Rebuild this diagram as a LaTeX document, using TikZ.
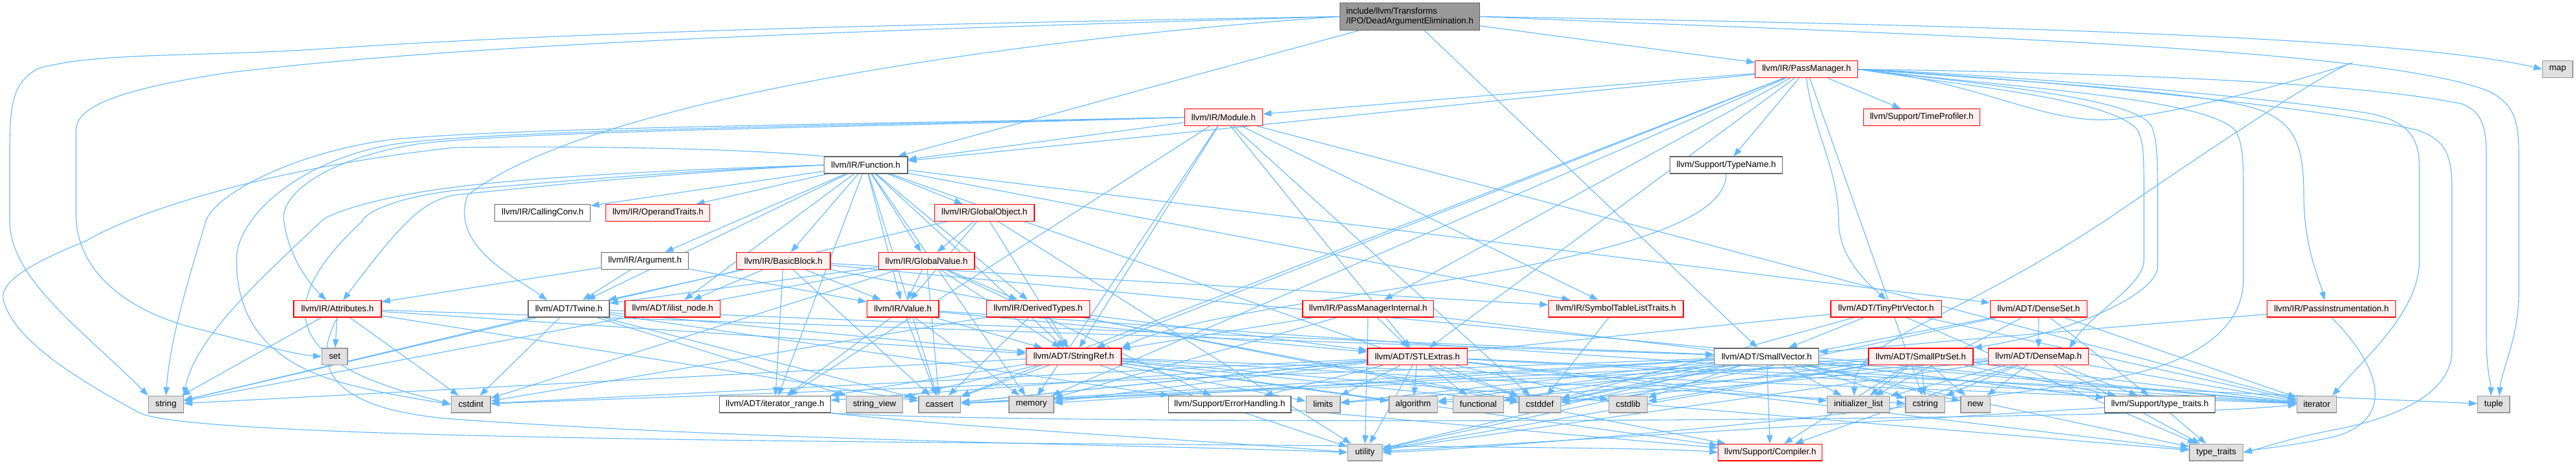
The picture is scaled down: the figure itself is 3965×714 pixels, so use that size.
\documentclass[tikz,border=0pt]{standalone}
\usepackage{fontspec}
\setmainfont{Liberation Sans}
\usetikzlibrary{arrows.meta}
\pgfdeclarelayer{bg}
\pgfsetlayers{bg,main}
\definecolor{edgeblue}{HTML}{63B8FF}
\definecolor{nodered}{HTML}{FF0000}
\definecolor{redfill}{HTML}{FFF0F0}
\definecolor{greyfill}{HTML}{E0E0E0}
\definecolor{greyline}{HTML}{999999}
\definecolor{darkline}{HTML}{666666}
\definecolor{rootfill}{HTML}{999999}
\tikzset{
  base/.style={draw, line width=1.3pt, minimum height=25.7pt, inner sep=0pt,
    font=\fontsize{13.3}{15}\selectfont},
  rn/.style={base, draw=nodered, fill=redfill},
  wn/.style={base, draw=darkline, fill=white},
  gn/.style={base, draw=greyline, fill=greyfill},
  rootn/.style={base, draw=darkline, fill=rootfill},
  dep/.style={draw=edgeblue, line width=1.1pt, -{Triangle[length=13pt,width=9.5pt]}},
}
\begin{document}
\begin{tikzpicture}[x=1pt,y=-1pt]
\useasboundingbox (0,0) rectangle (3965,714);
% nodes
\node[rootn, minimum width=215pt, minimum height=41.6pt, align=left] (root) at (2170,25.5) {include/llvm/Transforms\\/IPO/DeadArgumentElimination.h};
\node[rn, minimum width=157.6pt] (pm) at (2780.6,106.5) {llvm/IR/PassManager.h};
\node[rn, minimum width=179pt] (tprof) at (2957.8,180.5) {llvm/Support/TimeProfiler.h};
\node[wn, minimum width=173pt] (tname) at (2657,254) {llvm/Support/TypeName.h};
\node[gn, minimum width=46.5pt] (map) at (3936.8,106.5) {map};
\node[rn, minimum width=120pt] (mod) at (1883.3,180.5) {llvm/IR/Module.h};
\node[wn, minimum width=128.6pt] (fn) at (1332.6,254) {llvm/IR/Function.h};
\node[wn, minimum width=147pt] (cc) at (835.3,327.5) {llvm/IR/CallingConv.h};
\node[rn, minimum width=160pt] (optr) at (1012.8,327.5) {llvm/IR/OperandTraits.h};
\node[rn, minimum width=153.6pt] (gobj) at (1515.2,327.5) {llvm/IR/GlobalObject.h};
\node[wn, minimum width=134.4pt] (arg) at (992.6,401.3) {llvm/IR/Argument.h};
\node[rn, minimum width=144.6pt] (bb) at (1205.8,401.3) {llvm/IR/BasicBlock.h};
\node[rn, minimum width=147.8pt] (gval) at (1426.1,401.3) {llvm/IR/GlobalValue.h};
\node[rn, minimum width=135pt] (attr) at (519.4,475) {llvm/IR/Attributes.h};
\node[wn, minimum width=125pt] (twine) at (875.5,475) {llvm/ADT/Twine.h};
\node[rn, minimum width=146.5pt] (ilist) at (1035.3,475) {llvm/ADT/ilist\_node.h};
\node[rn, minimum width=110.7pt] (val) at (1389.7,475) {llvm/IR/Value.h};
\node[rn, minimum width=159pt] (dtypes) at (1597.8,475) {llvm/IR/DerivedTypes.h};
\node[rn, minimum width=201.8pt] (pmi) at (2105.8,475) {llvm/IR/PassManagerInternal.h};
\node[rn, minimum width=207.6pt] (stlt) at (2487.3,475) {llvm/IR/SymbolTableListTraits.h};
\node[rn, minimum width=170.5pt] (tpv) at (2903.1,475) {llvm/ADT/TinyPtrVector.h};
\node[rn, minimum width=149pt] (dset) at (3138,475) {llvm/ADT/DenseSet.h};
\node[rn, minimum width=198.3pt] (pinst) at (3588.6,475) {llvm/IR/PassInstrumentation.h};
\node[gn, minimum width=39.3pt] (set) at (515.2,548.7) {set};
\node[rn, minimum width=146.4pt] (sref) at (1652.7,548.7) {llvm/ADT/StringRef.h};
\node[rn, minimum width=153.6pt] (stlx) at (2181.7,548.7) {llvm/ADT/STLExtras.h};
\node[wn, minimum width=160.8pt] (svec) at (2719.2,548.7) {llvm/ADT/SmallVector.h};
\node[rn, minimum width=161pt] (sps) at (2956.5,548.7) {llvm/ADT/SmallPtrSet.h};
\node[rn, minimum width=154pt] (dmap) at (3137.7,548.7) {llvm/ADT/DenseMap.h};
\node[gn, minimum width=53.6pt] (string) at (255.4,622.2) {string};
\node[gn, minimum width=60.3pt] (cstdint) at (724.8,622.2) {cstdint};
\node[wn, minimum width=170.5pt] (itr) at (1192.9,622.2) {llvm/ADT/iterator\_range.h};
\node[gn, minimum width=87.5pt] (sview) at (1346,622.2) {string\_view};
\node[gn, minimum width=64.7pt] (cassert) at (1446.2,622.2) {cassert};
\node[gn, minimum width=68.8pt] (memory) at (1587.5,622.2) {memory};
\node[wn, minimum width=188.4pt] (errh) at (1892.8,622.2) {llvm/Support/ErrorHandling.h};
\node[gn, minimum width=52.7pt] (limits) at (2036.6,622.2) {limits};
\node[gn, minimum width=74.6pt] (algorithm) at (2175.2,622.2) {algorithm};
\node[gn, minimum width=77.7pt] (functional) at (2275.4,622.2) {functional};
\node[gn, minimum width=64.3pt] (cstddef) at (2370,622.2) {cstddef};
\node[gn, minimum width=59.4pt] (cstdlib) at (2506,622.2) {cstdlib};
\node[gn, minimum width=96pt] (ilst) at (2860.5,622.2) {initializer\_list};
\node[gn, minimum width=60.7pt] (cstring) at (2963.4,622.2) {cstring};
\node[gn, minimum width=45.5pt] (new) at (3040.6,622.2) {new};
\node[wn, minimum width=170pt] (stt) at (3324.5,622.2) {llvm/Support/type\_traits.h};
\node[gn, minimum width=61.1pt] (iterator) at (3566,622.2) {iterator};
\node[gn, minimum width=49.3pt] (tuple) at (3838.3,622.2) {tuple};
\node[gn, minimum width=52.7pt] (utility) at (2100.9,696.2) {utility};
\node[rn, minimum width=160pt] (compiler) at (2724.8,696.2) {llvm/Support/Compiler.h};
\node[gn, minimum width=82.5pt] (ttraits) at (3411.2,696.2) {type\_traits};
% edges
\begin{pgfonlayer}{bg}
\fill[white] (0,0) rectangle (3965,714);
\foreach \a/\b in {root/fn, root/pm, root/svec,
 pm/mod, pm/fn, pm/tname, pm/tprof, pm/pmi, pm/stlx, pm/sref, pm/cassert, pm/memory, pm/cstring,
 mod/fn, mod/sref, mod/stlx, mod/itr, mod/stlt, mod/cstddef, mod/memory, mod/iterator,
 fn/cc, fn/optr, fn/gobj, fn/arg, fn/bb, fn/gval, fn/twine, fn/ilist, fn/val, fn/dtypes, fn/sref, fn/stlt, fn/dset, fn/itr, fn/cassert, fn/cstddef, fn/memory,
 gobj/gval, gobj/val, gobj/sref, gobj/string, gobj/utility,
 arg/twine, arg/attr, arg/val,
 bb/twine, bb/ilist, bb/itr, bb/stlt, bb/val, bb/cassert, bb/cstddef, bb/iterator,
 gval/val, gval/dtypes, gval/sref, gval/twine, gval/errh, gval/cassert, gval/cstdint, gval/string,
 attr/set, attr/string, attr/cstdint, attr/cassert, attr/sref, attr/svec,
 twine/sref, twine/svec, twine/errh, twine/cassert, twine/cstdint, twine/string, twine/sview,
 val/sref, val/stlx, val/itr, val/cassert, val/iterator, val/memory,
 dtypes/sref, dtypes/stlx, dtypes/compiler, dtypes/cassert, dtypes/cstdint,
 pmi/stlx, pmi/sref, pmi/stt, pmi/memory, pmi/utility,
 stlt/cstddef,
 tpv/svec, tpv/cassert, tpv/cstddef, tpv/iterator, tpv/ttraits,
 dset/dmap, dset/stt, dset/cstddef, dset/ilst, dset/iterator, dset/utility,
 pinst/svec,
 sref/itr, sref/compiler, sref/algorithm, sref/cassert, sref/cstddef, sref/cstring, sref/iterator, sref/limits, sref/string, sref/sview, sref/ttraits, sref/utility,
 stlx/itr, stlx/errh, stlx/algorithm, stlx/cassert, stlx/cstddef, stlx/cstdint, stlx/cstdlib, stlx/functional, stlx/ilst, stlx/iterator, stlx/limits, stlx/memory, stlx/tuple, stlx/ttraits, stlx/utility,
 svec/compiler, svec/stt, svec/algorithm, svec/cassert, svec/cstddef, svec/cstdint, svec/cstdlib, svec/cstring, svec/functional, svec/ilst, svec/iterator, svec/limits, svec/memory, svec/new, svec/ttraits, svec/utility,
 sps/compiler, sps/stt, sps/cassert, sps/cstddef, sps/cstdlib, sps/cstring, sps/ilst, sps/iterator, sps/limits, sps/utility, sps/new,
 dmap/compiler, dmap/stt, dmap/algorithm, dmap/cassert, dmap/cstddef, dmap/cstring, dmap/ilst, dmap/iterator, dmap/new, dmap/ttraits, dmap/utility,
 errh/compiler, stt/ttraits, stt/utility}
 \draw[dep] (\a) -- (\b);
% routed edges
\draw[dep] (root.west) .. controls (1200,40) and (800,55) .. (500,75) .. controls (300,88) and (150,80) .. (60,105) .. controls (20,125) and (15,160) .. (15,230) -- (15,340) .. controls (15,430) and (130,510) .. (string.north west);
\draw[dep] (root.west) .. controls (1200,50) and (700,70) .. (350,112) .. controls (200,135) and (117,160) .. (117,200) -- (117,330) .. controls (117,420) and (200,480) .. (300,505) .. controls (400,530) and (450,545) .. (set.west);
\draw[dep] (root.east) .. controls (3000,38) and (3700,55) .. (map.west);
\draw[dep] (root.east) .. controls (2900,52) and (3650,70) .. (3830,140) .. controls (3870,160) and (3877,185) .. (3877,240) -- (3877,450) .. controls (3877,520) and (3850,570) .. (3847,609);
\draw[dep] (root.west) .. controls (1500,65) and (900,160) .. (720,300) .. controls (690,380) and (800,430) .. (842,462);
\draw[dep] (pm.east) .. controls (3100,110) and (3600,120) .. (3790,160) .. controls (3820,172) and (3827,195) .. (3827,240) -- (3827,520) .. controls (3827,570) and (3834,590) .. (3834,609);
\draw[dep] (pm.east) .. controls (3100,116) and (3500,150) .. (3650,175) .. controls (3710,188) and (3724,215) .. (3724,260) -- (3724,400) .. controls (3724,480) and (3640,550) .. (3590,609);
\draw[dep] (pm.east) .. controls (3100,120) and (3550,160) .. (3720,200) .. controls (3765,215) and (3774,240) .. (3774,290) -- (3774,540) .. controls (3774,600) and (3700,640) .. (3600,660) .. controls (3520,675) and (3480,690) .. (ttraits.east);
\draw[dep] (pm.east) .. controls (3100,125) and (3400,140) .. (3480,170) .. controls (3530,190) and (3546,220) .. (3546,300) .. controls (3546,380) and (3570,430) .. (3578,462);
\draw[dep] (pm.east) .. controls (3000,130) and (3250,150) .. (3290,200) .. controls (3300,220) and (3300,240) .. (3300,300) -- (3300,400) .. controls (3300,440) and (3220,480) .. (3185,536);
\draw[dep] (pm.east) .. controls (3050,130) and (3290,150) .. (3312,195) .. controls (3320,215) and (3321,240) .. (3321,300) -- (3321,410) .. controls (3321,450) and (3200,510) .. (sps.north east);
\draw[dep] (pm.east) .. controls (3100,135) and (3390,150) .. (3440,200) .. controls (3453,220) and (3453,250) .. (3453,300) -- (3453,430) .. controls (3453,520) and (3350,565) .. (3250,582) .. controls (2900,640) and (2300,690) .. (utility.east);
\draw[dep] (pm.east) .. controls (3050,125) and (3150,195) .. (3260,183) .. controls (3400,168) and (3640,92) .. (3619,97) .. controls (3580,110) and (3400,230) .. (3250,333) .. controls (3000,500) and (2854,520) .. (2854,609);
\draw[dep] (pm.south) .. controls (2790,200) and (2830,260) .. (2830,340) .. controls (2830,400) and (2880,440) .. (tpv.north);
\draw[dep] (tname.south) .. controls (2657,420) and (1900,450) .. (sref.north east);
\draw[dep] (mod.west) .. controls (1400,190) and (800,195) .. (600,215) .. controls (450,235) and (330,300) .. (317,340) .. controls (290,430) and (262,520) .. (string.north);
\draw[dep] (mod.west) .. controls (1400,192) and (800,198) .. (620,220) .. controls (470,240) and (364,330) .. (364,400) .. controls (364,500) and (420,560) .. (530,590) .. controls (600,608) and (650,615) .. (cstdint.west);
\draw[dep] (mod.west) .. controls (1400,195) and (800,200) .. (640,222) .. controls (500,245) and (430,300) .. (437,340) .. controls (445,400) and (480,440) .. (502,462);
\draw[dep] (fn.west) .. controls (1000,262) and (800,275) .. (700,288) .. controls (600,300) and (510,325) .. (495,340) .. controls (400,430) and (300,520) .. (string.north east);
\draw[dep] (fn.west) .. controls (1000,265) and (800,285) .. (700,293) .. controls (600,305) and (560,330) .. (558,340) .. controls (450,440) and (430,520) .. (560,580) .. controls (620,605) and (660,612) .. (cstdint.west);
\draw[dep] (fn.west) .. controls (1000,268) and (800,290) .. (700,300) .. controls (650,310) and (620,340) .. (528,462);
\draw[dep] (fn.north west) .. controls (1100,225) and (800,225) .. (700,227) .. controls (400,260) and (200,330) .. (134,370) .. controls (60,400) and (0,430) .. (5,460) .. controls (20,530) and (150,600) .. (214,635) .. controls (300,680) and (1500,680) .. (2300,688) .. controls (2500,690) and (2600,692) .. (compiler.west);
\draw[dep] (attr.south) .. controls (480,560) and (500,630) .. (700,645) .. controls (1200,680) and (1800,685) .. (utility.west);
\draw[dep] (itr.south east) .. controls (1500,660) and (1900,680) .. (utility.west);
\draw[dep] (itr.south east) .. controls (1600,655) and (3300,650) .. (iterator.west);
\draw[dep] (pinst.south) .. controls (3660,560) and (3690,640) .. (3600,670) .. controls (3540,685) and (3480,690) .. (ttraits.east);
\end{pgfonlayer}
\end{tikzpicture}
\end{document}
